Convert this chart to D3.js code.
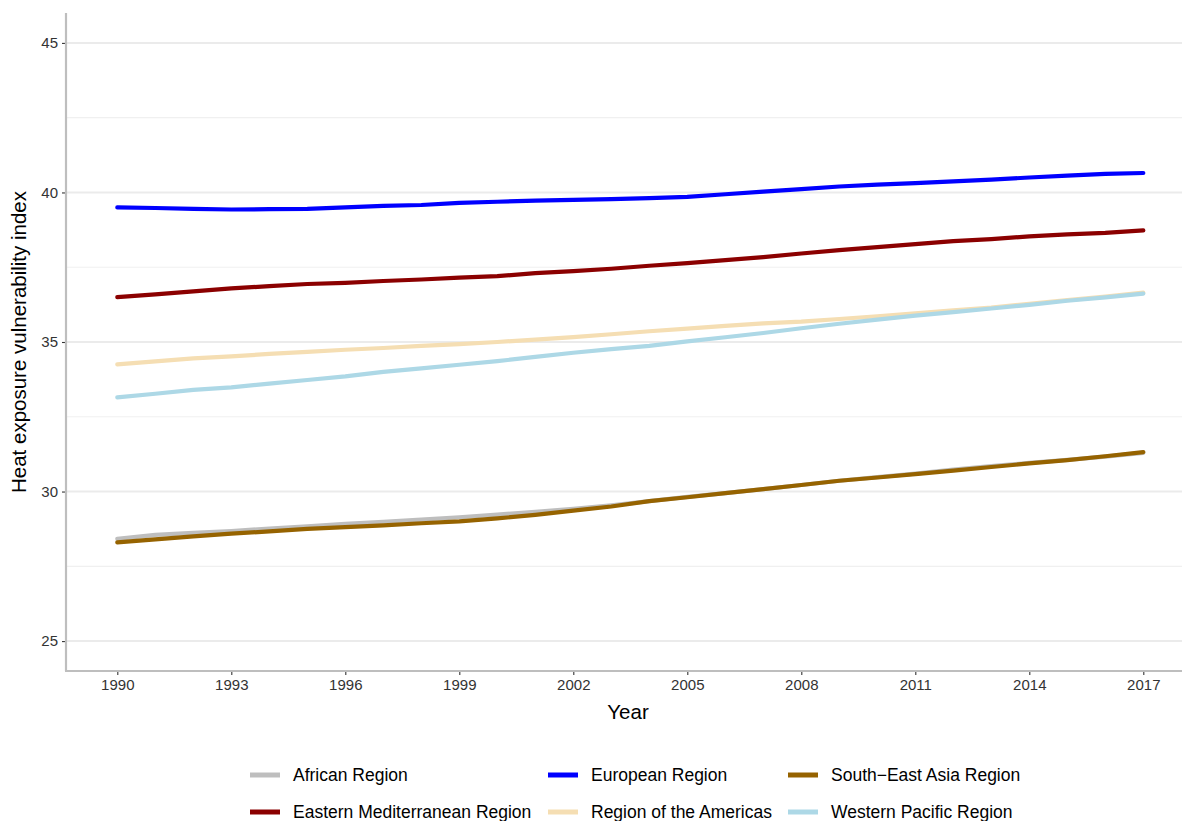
<!DOCTYPE html>
<html><head><meta charset="utf-8">
<script src="https://cdn.jsdelivr.net/npm/d3@7"></script>
<style>body{margin:0;background:#fff}svg{display:block;font-family:"Liberation Sans",Arial,Helvetica,sans-serif}</style>
</head><body>
<svg id="c" width="1182" height="821"></svg>
<script>
const years = d3.range(1990, 2018);
const regions = ["African Region","Eastern Mediterranean Region","European Region","Region of the Americas","South\u2212East Asia Region","Western Pacific Region"];
const colors = ["#bebebe","#8b0000","#0000ff","#f5deb3","#966300","#add8e6"];
const african = [28.42,28.55,28.62,28.68,28.76,28.84,28.92,28.99,29.06,29.14,29.23,29.32,29.42,29.54,29.68,29.82,29.95,30.08,30.22,30.36,30.48,30.60,30.73,30.85,30.96,31.06,31.17,31.29];
const easternMed = [36.50,36.59,36.69,36.79,36.87,36.94,36.98,37.04,37.09,37.15,37.20,37.30,37.37,37.45,37.55,37.64,37.74,37.84,37.96,38.07,38.17,38.27,38.37,38.44,38.53,38.60,38.65,38.73];
const european = [39.50,39.48,39.45,39.43,39.44,39.45,39.50,39.55,39.58,39.65,39.69,39.73,39.75,39.78,39.81,39.85,39.94,40.03,40.11,40.20,40.26,40.31,40.37,40.43,40.50,40.56,40.62,40.65];
const americas = [34.25,34.35,34.45,34.52,34.60,34.67,34.74,34.80,34.87,34.93,35.00,35.08,35.16,35.26,35.36,35.45,35.54,35.62,35.68,35.77,35.86,35.96,36.06,36.15,36.28,36.40,36.52,36.65];
const seAsia = [28.30,28.40,28.50,28.59,28.67,28.75,28.81,28.87,28.94,29.00,29.10,29.22,29.36,29.50,29.68,29.81,29.95,30.08,30.22,30.36,30.47,30.58,30.70,30.82,30.94,31.05,31.18,31.32];
const westPacific = [33.15,33.27,33.40,33.48,33.61,33.73,33.85,34.00,34.12,34.24,34.36,34.50,34.64,34.76,34.87,35.02,35.16,35.30,35.46,35.61,35.75,35.88,36.00,36.12,36.24,36.38,36.49,36.62];
const seriesValues = [african, easternMed, european, americas, seAsia, westPacific];
const xTicks = [1990,1993,1996,1999,2002,2005,2008,2011,2014,2017];
const yTicks = [25,30,35,40,45];
const yMinor = [27.5,32.5,37.5,42.5];

const svg = d3.select("#c");
const L = 66, R = 1182, T = 13, B = 671;
const x = d3.scaleLinear().domain([1988.65, 2018.35]).range([L, L + (2018.35-1988.65)*(1143-117)/27]);
const y = d3.scaleLinear().domain([24, 46]).range([B, T]);

const g = svg.append("g");
g.selectAll(".gmin").data(yMinor).join("line")
  .attr("x1", L).attr("x2", R).attr("y1", d=>y(d)).attr("y2", d=>y(d))
  .attr("stroke", "#f0f0f0").attr("stroke-width", 1.2);
g.selectAll(".gmaj").data(yTicks).join("line")
  .attr("x1", L).attr("x2", R).attr("y1", d=>y(d)).attr("y2", d=>y(d))
  .attr("stroke", "#ebebeb").attr("stroke-width", 2);

const line = d3.line().x((d,i)=>x(years[i])).y(d=>y(d)).curve(d3.curveLinear);
seriesValues.forEach((vals, k) => {
  g.append("path").datum(vals).attr("d", line)
    .attr("fill","none").attr("stroke", colors[k]).attr("stroke-width", 4.2)
    .attr("stroke-linecap","round").attr("stroke-linejoin","round");
});

const yAxis = d3.axisLeft(y).tickValues(yTicks).tickSize(4).tickPadding(4);
const ya = svg.append("g").attr("transform", `translate(${L},0)`).call(yAxis);
ya.select(".domain").remove();
ya.selectAll(".tick line").attr("stroke","#333").attr("stroke-width",1.1);
ya.selectAll(".tick text").attr("fill","#333").style("font-size","15px");
svg.append("line").attr("x1",L).attr("x2",L).attr("y1",T).attr("y2",B)
  .attr("stroke","#bebebe").attr("stroke-width",2.2);

const xAxis = d3.axisBottom(x).tickValues(xTicks).tickFormat(d3.format("d")).tickSize(4).tickPadding(4);
const xa = svg.append("g").attr("transform", `translate(0,${B})`).call(xAxis);
xa.select(".domain").remove();
xa.selectAll(".tick line").attr("stroke","#333").attr("stroke-width",1.1);
xa.selectAll(".tick text").attr("fill","#333").style("font-size","15px");
svg.append("line").attr("x1",L-1).attr("x2",R).attr("y1",B).attr("y2",B)
  .attr("stroke","#bebebe").attr("stroke-width",2.2);

svg.append("text").attr("x", 628).attr("y", 719).attr("text-anchor","middle")
  .style("font-size","20.5px").attr("fill","#000").text("Year");
svg.append("text").attr("transform", `translate(26,${(T+B)/2}) rotate(-90)`).attr("text-anchor","middle")
  .style("font-size","20.5px").attr("fill","#000").text("Heat exposure vulnerability index");

const colX = [250, 548, 788];
const rowY = [775, 812];
const leg = svg.append("g");
regions.forEach((name, k) => {
  const c = Math.floor(k / 2), r = k % 2;
  leg.append("line").attr("x1", colX[c]).attr("x2", colX[c]+30).attr("y1", rowY[r]).attr("y2", rowY[r])
    .attr("stroke", colors[k]).attr("stroke-width", 5);
  leg.append("text").attr("x", colX[c]+43).attr("y", rowY[r]).attr("dy","0.35em")
    .style("font-size","17.5px").attr("fill","#000").text(name);
});
</script>
</body></html>
